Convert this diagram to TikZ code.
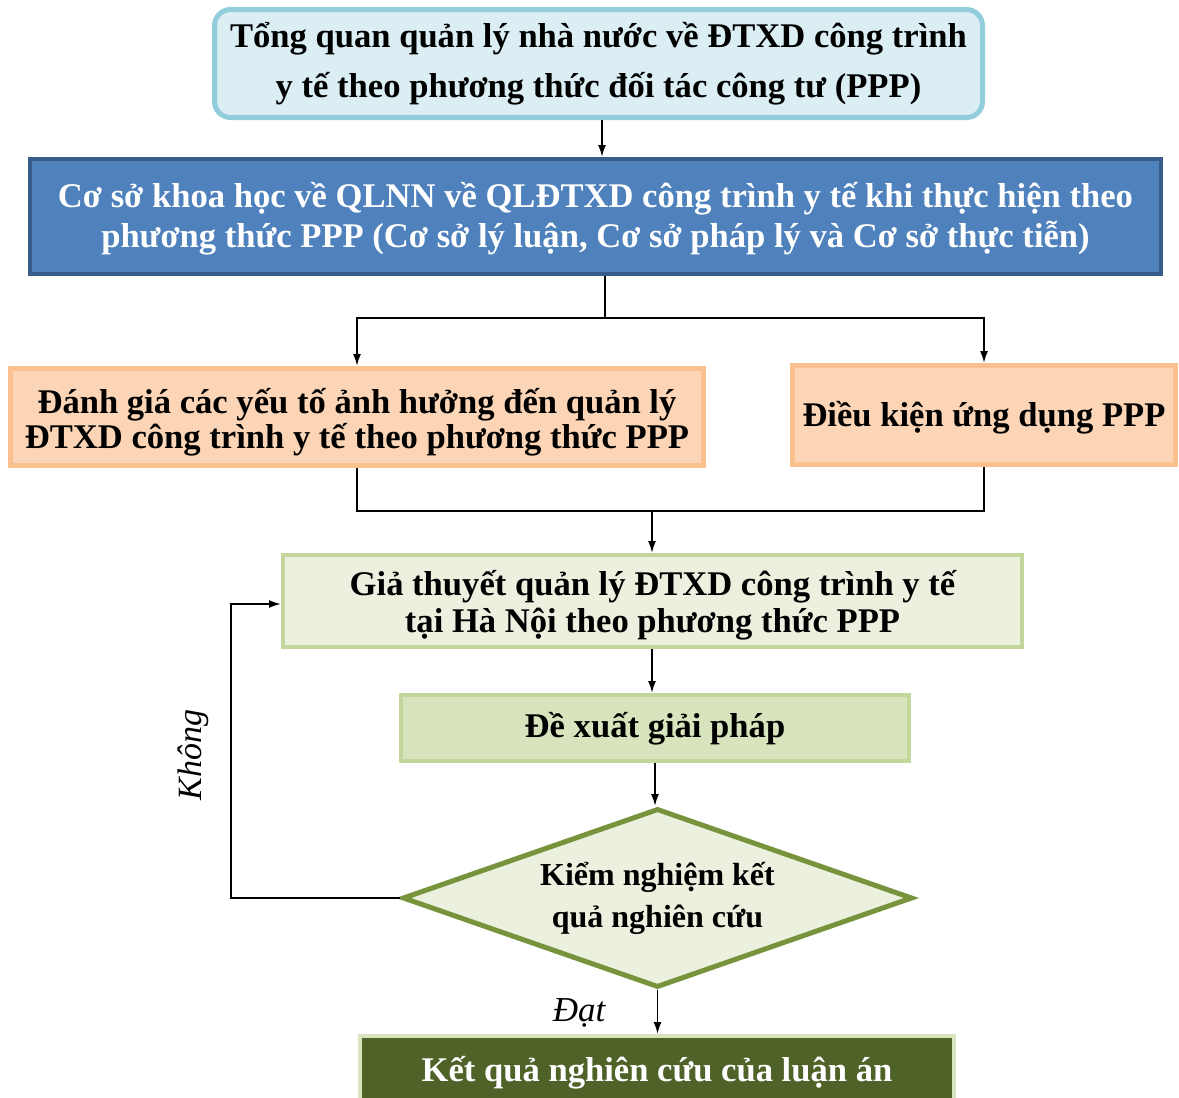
\documentclass[tikz,border=0pt]{standalone}
\usepackage{fontspec}
\setmainfont{Liberation Serif}
\usetikzlibrary{arrows.meta,shapes.geometric,calc}

\definecolor{topFill}{HTML}{DAEEF3}
\definecolor{topLine}{HTML}{92CDDC}
\definecolor{baseFill}{HTML}{4F81BD}
\definecolor{baseLine}{HTML}{385D8A}
\definecolor{peachFill}{HTML}{FBD5B5}
\definecolor{peachLine}{HTML}{FAC090}
\definecolor{paleGreen}{HTML}{EBF1DE}
\definecolor{midGreen}{HTML}{D7E4BD}
\definecolor{greenLine}{HTML}{C3D69B}
\definecolor{oliveLine}{HTML}{77933C}
\definecolor{oliveDark}{HTML}{4F6228}

\newcommand{\pu}[1]{#1*0.5pt}

\tikzset{
  boxbase/.style={draw, rectangle, align=center, inner sep=0pt, font=\bfseries},
  overview/.style={boxbase, fill=topFill, draw=topLine, line width=\pu{5}, rounded corners=\pu{16}},
  basis/.style={boxbase, fill=baseFill, draw=baseLine, line width=\pu{4}, text=white},
  peach/.style={boxbase, fill=peachFill, draw=peachLine, line width=\pu{5}},
  hypo/.style={boxbase, fill=paleGreen, draw=greenLine, line width=\pu{4}},
  propose/.style={boxbase, fill=midGreen, draw=greenLine, line width=\pu{4}},
  check/.style={diamond, aspect=2.8, draw=oliveLine, fill=paleGreen, line width=\pu{5}, align=center, inner sep=0pt, font=\bfseries},
  result/.style={boxbase, fill=oliveDark, draw=midGreen, line width=\pu{4}, text=white},
  arr/.style={-{Latex[length=\pu{12}, width=\pu{8}]}, line width=\pu{1.8}, black},
  link/.style={line width=\pu{1.8}, black},
  tag/.style={inner sep=0pt}
}

\begin{document}
\begin{tikzpicture}[x=0.5pt, y=-0.5pt]
\useasboundingbox (0,0) rectangle (1179,1098);
\clip (0,0) rectangle (1179,1098);

% boxes (text height/depth, measured from the last baseline, place the lines)
\node[overview, minimum width=\pu{768}, minimum height=\pu{108},
      text height=33.8pt, text depth=0pt,
      font=\bfseries\fontsize{17.3pt}{25pt}\selectfont] (top) at (598.5,63.5)
  {Tổng quan quản lý nhà nước về ĐTXD công trình\\y tế theo phương thức đối tác công tư (PPP)};

\node[basis, minimum width=\pu{1131}, minimum height=\pu{115},
      text height=30.8pt, text depth=0pt,
      font=\bfseries\fontsize{17.3pt}{20pt}\selectfont] (sec) at (595.5,216.5)
  {Cơ sở khoa học về QLNN về QLĐTXD công trình y tế khi thực hiện theo\\phương thức PPP (Cơ sở lý luận, Cơ sở pháp lý và Cơ sở thực tiễn)};

\node[peach, minimum width=\pu{693}, minimum height=\pu{97},
      text height=31.1pt, text depth=0pt,
      font=\bfseries\fontsize{17.3pt}{15.8pt}\selectfont] (oL) at (357,417)
  {Đánh giá các yếu tố ảnh hưởng đến quản lý\\ĐTXD công trình y tế theo phương thức PPP};

\node[peach, minimum width=\pu{383}, minimum height=\pu{99},
      text height=11.5pt, text depth=0pt,
      font=\bfseries\fontsize{17.3pt}{18pt}\selectfont] (oR) at (984,415)
  {Điều kiện ứng dụng PPP};

\node[hypo, minimum width=\pu{739}, minimum height=\pu{92},
      text height=31.3pt, text depth=0pt,
      font=\bfseries\fontsize{17.3pt}{18.3pt}\selectfont] (g1) at (652.5,601)
  {Giả thuyết quản lý ĐTXD công trình y tế\\tại Hà Nội theo phương thức PPP};

\node[propose, minimum width=\pu{508}, minimum height=\pu{66},
      text height=9.5pt, text depth=0pt,
      font=\bfseries\fontsize{17.3pt}{20pt}\selectfont] (g2) at (655,728)
  {Đề xuất giải pháp};

\node[check, minimum width=\pu{510}, minimum height=\pu{179},
      text height=29.2pt, text depth=0pt,
      font=\bfseries\fontsize{16pt}{20.8pt}\selectfont] (dia) at (657.5,898)
  {Kiểm nghiệm kết\\quả nghiên cứu};

\node[result, minimum width=\pu{594}, minimum height=\pu{70},
      text height=10.5pt, text depth=0pt,
      font=\bfseries\fontsize{17.3pt}{20pt}\selectfont] (res) at (657,1071)
  {Kết quả nghiên cứu của luận án};

% connectors
\draw[arr] ($(top.south)+(3.5,0)$) -- ($(top.south |- sec.north)+(3.5,0)$);

\coordinate (split) at (605,318);
\draw[link] (sec.south -| split) -- (split);
\draw[arr] (split) -| (oL.north);
\draw[arr] (split) -| (oR.north);

\coordinate (merge) at (652,511);
\draw[link] (oL.south) |- (merge);
\draw[link] (oR.south) |- (merge);
\draw[arr] (merge) -- (g1.north -| merge);

\draw[arr] (g1.south -| merge) -- (g2.north -| merge);
\draw[arr] (g2.south) -- (g2.south |- dia.north);
\draw[arr] (dia.south) -- (dia.south |- res.north);

\coordinate (loop) at (231,604);
\draw[arr] (dia.west) -| (loop) -- (loop -| g1.west);

% branch labels
\node[tag, rotate=90, font=\itshape\fontsize{17pt}{20pt}\selectfont] (no) at (193,755) {Không};
\node[tag, font=\itshape\fontsize{17.5pt}{20pt}\selectfont] (yes) at (579,1013) {Đạt};
\end{tikzpicture}
\end{document}
